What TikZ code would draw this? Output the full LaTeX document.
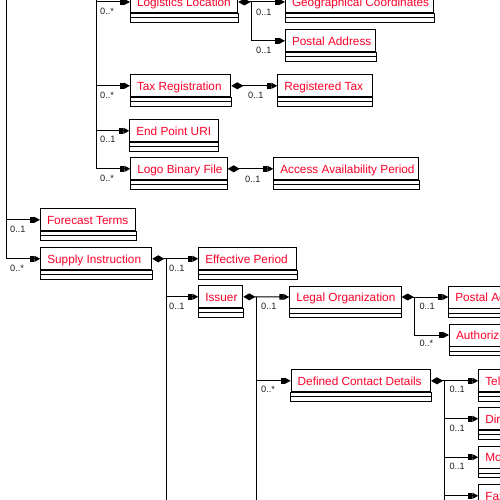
\documentclass[tikz,border=0pt]{standalone}
\usepackage{fontspec}
\setmainfont{Liberation Sans}
\usetikzlibrary{arrows.meta,calc}
\definecolor{clsred}{RGB}{250,0,40}
\definecolor{multc}{RGB}{30,30,30}
\tikzset{
 clsbox/.style={draw, line width=1pt, rectangle, anchor=north west, minimum height=22pt,
   inner xsep=6.5pt, inner ysep=0pt, text height=10pt, text depth=1.4pt,
   font=\fontsize{11.8}{13}\selectfont, text=clsred},
 conn/.style={line width=1pt, -{Rectangle[length=4pt,width=5.5pt,sep=0pt]Triangle[length=6pt,width=6pt]}},
 compconn/.style={line width=1pt, {Diamond[length=12pt,width=7pt]}-{Rectangle[length=4pt,width=5.5pt,sep=0pt]Triangle[length=6pt,width=6pt]}},
 plainline/.style={line width=1pt},
 mult/.style={anchor=west, inner sep=0pt, font=\fontsize{9.2}{10}\selectfont, text=multc},
}
\newcommand\umlcls[5]{%
 \pgfmathsetmacro\umltw{#4-13}%
 \node[clsbox, minimum width=#4pt] (#1) at (#2,#3) {\makebox[\umltw pt][l]{#5}};
 \draw[plainline] (#1.south west) rectangle ($(#1.south east)+(0,9)$);
 \draw[plainline] ($(#1.south west)+(0,4.5)$) -- ($(#1.south east)+(0,4.5)$);
}
\begin{document}
\begin{tikzpicture}[x=1pt,y=-1pt]
\useasboundingbox (0,0) rectangle (500,500);
\clip (0,0) rectangle (500,500);
% classes
\umlcls{LL}{130}{-9.5}{107.3}{Logistics Location}
\umlcls{GC}{285}{-9.5}{148.3}{Geographical Coordinates}
\umlcls{PAa}{285}{29.3}{90}{Postal Address}
\umlcls{TR}{130}{74.3}{100.3}{Tax Registration}
\umlcls{RT}{277.3}{74.3}{94.4}{Registered Tax}
\umlcls{EPU}{129.3}{119.3}{88.4}{End Point URI}
\umlcls{LBF}{130.3}{157.3}{96.4}{Logo Binary File}
\umlcls{AAP}{273.3}{157.3}{145}{Access Availability Period}
\umlcls{FT}{40}{208.3}{95}{Forecast Terms}
\umlcls{SI}{40.3}{247.3}{111}{Supply Instruction}
\umlcls{EP}{198.3}{247.3}{97.7}{Effective Period}
\umlcls{ISS}{198.3}{285.3}{44}{Issuer}
\umlcls{LO}{289.3}{285.5}{111.4}{Legal Organization}
\umlcls{PAb}{448.3}{285.5}{200}{Postal Address}
\umlcls{AUTH}{449}{323.5}{250}{Authorized Legal Registration}
\umlcls{DCD}{290.7}{369.3}{139.3}{Defined Contact Details}
\umlcls{TEL}{478.3}{369.3}{300}{Telephone Universal Communication}
\umlcls{DIR}{478.3}{407.3}{300}{Direct Telephone Universal Communication}
\umlcls{MOB}{478.3}{445.7}{300}{Mobile Telephone Universal Communication}
\umlcls{FAX}{478.3}{484.3}{300}{Fax Universal Communication}
% trunk coordinates
\coordinate (t0) at (6.5,-5);
\coordinate (t1) at (96.5,-5);
\coordinate (b1) at (251,1.5);
\coordinate (t2) at (166,258.3);
\coordinate (t2e) at (166,505);
\coordinate (t3) at (256,296.5);
\coordinate (t3e) at (256,505);
\coordinate (t4) at (414.3,296.5);
\coordinate (t5) at (444.3,380.3);
\coordinate (t5e) at (444.3,505);
% connectors
\draw[conn] (t0) |- (FT.west);
\draw[conn] (t0) |- (SI.west);
\draw[conn] (t1) |- (LL.west);
\draw[conn] (t1) |- (TR.west);
\draw[conn] (t1) |- (EPU.west);
\draw[conn] (t1) |- (LBF.west);
\draw[compconn] (LL.east) -- (GC.west);
\draw[conn] (b1) |- (PAa.west);
\draw[compconn] (TR.east) -- (RT.west);
\draw[compconn] (LBF.east) -- (AAP.west);
\draw[compconn] (SI.east) -- (EP.west);
\draw[plainline] (t2) -- (t2e);
\draw[conn] (t2) |- (ISS.west);
\draw[compconn] (ISS.east) -- (LO.west);
\draw[plainline] (t3) -- (t3e);
\draw[conn] (t3) |- (DCD.west);
\draw[compconn] (LO.east) -- (PAb.west);
\draw[conn] (t4) |- (AUTH.west);
\draw[compconn] (DCD.east) -- (TEL.west);
\draw[plainline] (t5) -- (t5e);
\draw[conn] (t5) |- (DIR.west);
\draw[conn] (t5) |- (MOB.west);
\draw[conn] (t5) |- (FAX.west);
% multiplicities
\node[mult] (mFT) at (10,229.5) {0..1};
\node[mult] (mSI) at (10,268.5) {0..*};
\node[mult] (mLL) at (100,11.5) {0..*};
\node[mult] (mTR) at (100,95) {0..*};
\node[mult] (mEPU) at (100,139) {0..1};
\node[mult] (mLBF) at (100,178) {0..*};
\node[mult] (mGC) at (256,12.3) {0..1};
\node[mult] (mPAa) at (256,50.7) {0..1};
\node[mult] (mRT) at (248,95) {0..1};
\node[mult] (mAAP) at (245,179) {0..1};
\node[mult] (mEP) at (169,268.3) {0..1};
\node[mult] (mISS) at (169,306.7) {0..1};
\node[mult] (mLO) at (261,306.7) {0..1};
\node[mult] (mDCD) at (261,389.3) {0..*};
\node[mult] (mPAb) at (419.3,306) {0..1};
\node[mult] (mAUTH) at (419.3,343.3) {0..*};
\node[mult] (mTEL) at (449.3,389.3) {0..1};
\node[mult] (mDIR) at (449.3,428.3) {0..1};
\node[mult] (mMOB) at (449.3,466.7) {0..1};
\end{tikzpicture}
\end{document}
